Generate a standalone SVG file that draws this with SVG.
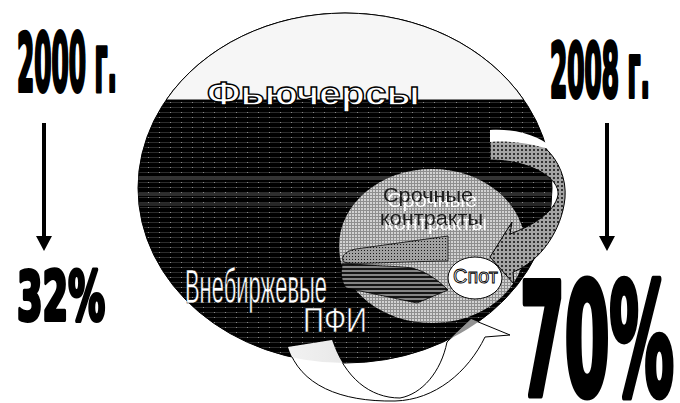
<svg xmlns="http://www.w3.org/2000/svg" width="680" height="403" viewBox="0 0 680 403">
<style>
.big{font-family:"DejaVu Sans Condensed","Liberation Sans",Arial,sans-serif;font-weight:bold;fill:#000;stroke:#000;stroke-linejoin:round}
.outl{font-family:"Liberation Sans",Arial,sans-serif;fill:#fff;stroke:#000}
.dark{font-family:"Liberation Sans",Arial,sans-serif;fill:#1a1a1a}
.edge{stroke:#000;stroke-width:1}
</style>
<defs>
<pattern id="hatch" width="11" height="5" patternUnits="userSpaceOnUse">
<rect width="11" height="5" fill="#000"/>
<rect y="2" width="11" height="1" fill="#2c2c2c"/>
<rect x="5" y="2" width="1" height="1" fill="#8a8a8a"/>
</pattern>
<pattern id="grid" width="3" height="3" patternUnits="userSpaceOnUse">
<rect width="3" height="3" fill="#d2d2d2"/>
<rect width="3" height="1" fill="#8e8e8e"/>
<rect width="1" height="3" fill="#8e8e8e"/>
</pattern>
<pattern id="dots" width="3" height="3" patternUnits="userSpaceOnUse">
<rect width="3" height="3" fill="#a0a0a0"/>
<rect x="1" y="1" width="1" height="1" fill="#1a1a1a"/>
</pattern>
<pattern id="stripes" width="4" height="4" patternUnits="userSpaceOnUse">
<rect width="4" height="4" fill="#858585"/>
<rect width="4" height="2" fill="#151515"/>
</pattern>
<pattern id="arrpat" width="4" height="4" patternUnits="userSpaceOnUse">
<rect width="4" height="4" fill="#a4a4a4"/>
<rect x="1" y="1" width="2" height="2" fill="#333"/>
</pattern>
<linearGradient id="btm" gradientUnits="userSpaceOnUse" x1="288" y1="0" x2="510" y2="0">
<stop offset="0" stop-color="#f2f2f2"/>
<stop offset="0.5" stop-color="#dedede"/>
<stop offset="0.62" stop-color="#9c9c9c"/>
<stop offset="1" stop-color="#8a8a8a"/>
</linearGradient>
<clipPath id="ellclip"><ellipse cx="345" cy="188" rx="207" ry="175"/></clipPath>
<filter id="wshadow" x="-10%" y="-30%" width="130%" height="180%">
<feOffset in="SourceAlpha" dx="4" dy="5" result="o"/>
<feFlood flood-color="#ffffff"/>
<feComposite in2="o" operator="in" result="s"/>
<feMerge><feMergeNode in="s"/><feMergeNode in="SourceGraphic"/></feMerge>
</filter>
</defs>

<g id="ellipse-main">
<ellipse cx="345" cy="188" rx="207" ry="175" fill="url(#hatch)" class="edge"/>
<g clip-path="url(#ellclip)">
<rect x="130" y="176" width="430" height="4" fill="#333"/>
<rect x="130" y="193" width="430" height="3" fill="#2e2e2e"/>
<rect x="130" y="203" width="430" height="3" fill="#262626"/>
</g>
<path d="M166.1,100 A207,175 0 0 1 523.9,100 Z" fill="#f6f6f6" class="edge"/>
<text class="outl" x="207" y="105" font-size="33" font-weight="bold" stroke-width="1.3" textLength="213" lengthAdjust="spacingAndGlyphs">Фьючерсы</text>
</g>

<g id="node-srochnye">
<ellipse cx="432" cy="246" rx="93" ry="77" fill="url(#grid)"/>
<g filter="url(#wshadow)">
<text class="dark" x="383" y="202" font-size="21" textLength="90" lengthAdjust="spacingAndGlyphs">Срочные</text>
<text class="dark" x="380" y="225" font-size="21" textLength="103" lengthAdjust="spacingAndGlyphs">контракты</text>
</g>
</g>

<g id="connectors">
<path d="M448,236 L356,249 C345,251 340,257 344,262 C352,265 385,262 448,261 Z" fill="url(#dots)" stroke="#000" stroke-width="0.8"/>
<path d="M343,263 C370,266 398,266 412,268 C428,272 440,282 448,290 L417,303 L346,288 C341,282 340,270 343,263 Z" fill="url(#stripes)" stroke="#000" stroke-width="0.8"/>
<path d="M490,130 C535,126 568,160 565,198 C562,230 540,262 513,272 L514,284 L490,257 L512,222 L510,234 C532,226 555,212 558,195 C560,178 530,160 490,160 Z" fill="url(#arrpat)" stroke="#000" stroke-width="1"/>
<path d="M490,130 C520,128 545,138 556,152 C540,145 515,140 490,142 Z" fill="#fff"/>
<path d="M288,347 C300,385 340,402 395,401 C435,400 468,372 485,337 L510,335 L471,319 L447,342 C441,372 422,394 400,398 C370,398 345,378 332,340 Z" fill="#fff" stroke="#000" stroke-width="1"/>
<path d="M288,347 C300,385 340,402 395,401 C435,400 468,372 485,337 L510,335 L471,319 L447,342 C441,372 422,394 400,398 C370,398 345,378 332,340 Z" fill="url(#btm)" clip-path="url(#ellclip)"/>
<line x1="44" y1="123" x2="44" y2="238" stroke="#000" stroke-width="4"/>
<polygon points="36,236 52,236 44,251" fill="#000"/>
<line x1="607" y1="123" x2="607" y2="238" stroke="#000" stroke-width="4"/>
<polygon points="599,236 615,236 607,251" fill="#000"/>
</g>

<g id="node-spot">
<ellipse cx="475" cy="278" rx="27" ry="21" fill="#fff" stroke="#000" stroke-width="1"/>
<text class="outl" x="453" y="283" font-size="20" stroke-width="0.9" textLength="45" lengthAdjust="spacingAndGlyphs">Спот</text>
</g>

<g id="node-pfi">
<text class="outl" x="185" y="303" font-size="48" stroke-width="0.6" textLength="142" lengthAdjust="spacingAndGlyphs">Внебиржевые</text>
<text class="outl" x="303" y="332" font-size="35" stroke-width="0.6" textLength="64" lengthAdjust="spacingAndGlyphs">ПФИ</text>
</g>

<g id="node-2000">
<text class="big" x="17" y="91" font-size="80" stroke-width="4" textLength="100" lengthAdjust="spacingAndGlyphs">2000 г.</text>
</g>
<g id="node-32">
<text class="big" x="17" y="320" font-size="68" stroke-width="4" textLength="88" lengthAdjust="spacingAndGlyphs">32%</text>
</g>
<g id="node-2008">
<text class="big" x="550" y="97" font-size="75" stroke-width="4" textLength="100" lengthAdjust="spacingAndGlyphs">2008 г.</text>
</g>
<g id="node-70">
<text class="big" x="520" y="395" font-size="155" stroke-width="7" textLength="154" lengthAdjust="spacingAndGlyphs">70%</text>
</g>
</svg>
